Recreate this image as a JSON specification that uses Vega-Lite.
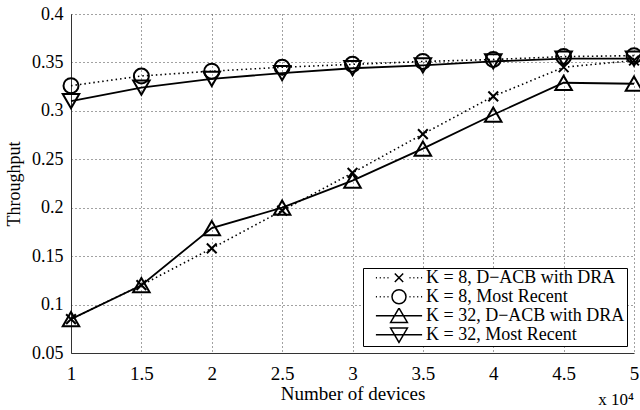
{
  "$schema": "https://vega.github.io/schema/vega-lite/v6.json",
  "width": 563,
  "height": 339,
  "autosize": {"type": "none"},
  "padding": {"left": 71, "top": 14, "right": 6, "bottom": 57},
  "background": "white",
  "config": {"view": {"stroke": null}, "font": "Liberation Serif"},
  "title": {"text": "x 10⁴", "orient": "bottom", "anchor": "end", "frame": "group", "fontSize": 17, "fontWeight": "normal", "font": "Liberation Serif", "color": "black", "offset": -11},
  "data": {"values": [
    {"x": 1, "y": 0.085, "series": "K = 8, D−ACB with DRA", "style": "dotted"},
    {"x": 1.5, "y": 0.12, "series": "K = 8, D−ACB with DRA", "style": "dotted"},
    {"x": 2, "y": 0.158, "series": "K = 8, D−ACB with DRA", "style": "dotted"},
    {"x": 2.5, "y": 0.197, "series": "K = 8, D−ACB with DRA", "style": "dotted"},
    {"x": 3, "y": 0.236, "series": "K = 8, D−ACB with DRA", "style": "dotted"},
    {"x": 3.5, "y": 0.276, "series": "K = 8, D−ACB with DRA", "style": "dotted"},
    {"x": 4, "y": 0.315, "series": "K = 8, D−ACB with DRA", "style": "dotted"},
    {"x": 4.5, "y": 0.345, "series": "K = 8, D−ACB with DRA", "style": "dotted"},
    {"x": 5, "y": 0.352, "series": "K = 8, D−ACB with DRA", "style": "dotted"},
    {"x": 1, "y": 0.326, "series": "K = 8, Most Recent", "style": "dotted"},
    {"x": 1.5, "y": 0.336, "series": "K = 8, Most Recent", "style": "dotted"},
    {"x": 2, "y": 0.341, "series": "K = 8, Most Recent", "style": "dotted"},
    {"x": 2.5, "y": 0.345, "series": "K = 8, Most Recent", "style": "dotted"},
    {"x": 3, "y": 0.348, "series": "K = 8, Most Recent", "style": "dotted"},
    {"x": 3.5, "y": 0.351, "series": "K = 8, Most Recent", "style": "dotted"},
    {"x": 4, "y": 0.353, "series": "K = 8, Most Recent", "style": "dotted"},
    {"x": 4.5, "y": 0.356, "series": "K = 8, Most Recent", "style": "dotted"},
    {"x": 5, "y": 0.357, "series": "K = 8, Most Recent", "style": "dotted"},
    {"x": 1, "y": 0.085, "series": "K = 32, D−ACB with DRA", "style": "solid"},
    {"x": 1.5, "y": 0.12, "series": "K = 32, D−ACB with DRA", "style": "solid"},
    {"x": 2, "y": 0.179, "series": "K = 32, D−ACB with DRA", "style": "solid"},
    {"x": 2.5, "y": 0.2, "series": "K = 32, D−ACB with DRA", "style": "solid"},
    {"x": 3, "y": 0.228, "series": "K = 32, D−ACB with DRA", "style": "solid"},
    {"x": 3.5, "y": 0.261, "series": "K = 32, D−ACB with DRA", "style": "solid"},
    {"x": 4, "y": 0.296, "series": "K = 32, D−ACB with DRA", "style": "solid"},
    {"x": 4.5, "y": 0.329, "series": "K = 32, D−ACB with DRA", "style": "solid"},
    {"x": 5, "y": 0.328, "series": "K = 32, D−ACB with DRA", "style": "solid"},
    {"x": 1, "y": 0.31, "series": "K = 32, Most Recent", "style": "solid"},
    {"x": 1.5, "y": 0.324, "series": "K = 32, Most Recent", "style": "solid"},
    {"x": 2, "y": 0.333, "series": "K = 32, Most Recent", "style": "solid"},
    {"x": 2.5, "y": 0.339, "series": "K = 32, Most Recent", "style": "solid"},
    {"x": 3, "y": 0.344, "series": "K = 32, Most Recent", "style": "solid"},
    {"x": 3.5, "y": 0.347, "series": "K = 32, Most Recent", "style": "solid"},
    {"x": 4, "y": 0.351, "series": "K = 32, Most Recent", "style": "solid"},
    {"x": 4.5, "y": 0.354, "series": "K = 32, Most Recent", "style": "solid"},
    {"x": 5, "y": 0.354, "series": "K = 32, Most Recent", "style": "solid"}
  ]},
  "encoding": {
    "x": {"field": "x", "type": "quantitative",
      "scale": {"domain": [1, 5], "nice": false, "zero": false},
      "axis": {"values": [1, 1.5, 2, 2.5, 3, 3.5, 4, 4.5, 5], "format": "~g", "title": "Number of devices",
        "grid": true, "gridDash": [1, 3], "gridColor": "#444", "gridOpacity": 1, "domainColor": "#333",
        "ticks": false, "labelPadding": 11, "labelFontSize": 19, "labelColor": "black", "labelFont": "Liberation Serif",
        "titleFontSize": 19, "titleFontWeight": "normal", "titleColor": "black", "titleFont": "Liberation Serif", "titlePadding": 1, "labelFlush": false}},
    "y": {"field": "y", "type": "quantitative",
      "scale": {"domain": [0.05, 0.4], "nice": false, "zero": false},
      "axis": {"values": [0.05, 0.1, 0.15, 0.2, 0.25, 0.3, 0.35, 0.4], "format": ".2~f", "title": "Throughput",
        "grid": true, "gridDash": [1, 3], "gridColor": "#444", "gridOpacity": 1, "domainColor": "#333",
        "ticks": false, "labelPadding": 8, "labelFontSize": 18, "labelColor": "black", "labelFont": "Liberation Serif",
        "titleFontSize": 18, "titleFontWeight": "normal", "titleColor": "black", "titleFont": "Liberation Serif", "titlePadding": 8, "labelFlush": false}}
  },
  "layer": [
    {
      "transform": [{"filter": "datum.style === 'dotted'"}],
      "mark": {"type": "line", "color": "black", "strokeWidth": 1.6, "strokeDash": [1.5, 3]},
      "encoding": {"detail": {"field": "series", "type": "nominal"}}
    },
    {
      "transform": [{"filter": "datum.style === 'solid'"}],
      "mark": {"type": "line", "color": "black", "strokeWidth": 1.8},
      "encoding": {"detail": {"field": "series", "type": "nominal"}}
    },
    {
      "mark": {"type": "point", "filled": false, "color": "black", "strokeWidth": 2, "size": 225, "opacity": 1},
      "encoding": {
        "shape": {"field": "series", "type": "nominal",
          "scale": {"domain": ["K = 8, D−ACB with DRA", "K = 8, Most Recent", "K = 32, D−ACB with DRA", "K = 32, Most Recent"],
            "range": ["M-0.65,-0.65L0.65,0.65M-0.65,0.65L0.65,-0.65", "circle", "M0,-0.95L1.1,0.95L-1.1,0.95Z", "M0,0.95L1.1,-0.95L-1.1,-0.95Z"]},
          "legend": null}
      }
    },
    {
      "mark": {"type": "point", "filled": false, "color": "black", "strokeWidth": 1.5, "size": 196, "opacity": 0},
      "encoding": {
        "shape": {"field": "series", "type": "nominal",
          "scale": {"domain": ["K = 8, D−ACB with DRA", "K = 8, Most Recent", "K = 32, D−ACB with DRA", "K = 32, Most Recent"],
            "range": [
              "M-3.3,0L-3.15,0M-2.75,0L-2.6,0M-2.2,0L-2.05,0M-1.65,0L-1.5,0M-0.6,-0.6L0.6,0.6M-0.6,0.6L0.6,-0.6M1.5,0L1.65,0M2.05,0L2.2,0M2.6,0L2.75,0M3.15,0L3.3,0",
              "M-3.3,0L-3.15,0M-2.75,0L-2.6,0M-2.2,0L-2.05,0M-1.65,0L-1.5,0M1,0A1,1 0 1,1 -1,0A1,1 0 1,1 1,0M1.5,0L1.65,0M2.05,0L2.2,0M2.6,0L2.75,0M3.15,0L3.3,0",
              "M-3.3,0L3.3,0M0,-1.1L1.2,0.95L-1.2,0.95Z",
              "M-3.3,0L3.3,0M0,1.1L1.2,-0.95L-1.2,-0.95Z"
            ]},
          "legend": {"title": null, "orient": "none", "legendX": 292, "legendY": 254,
            "fillColor": "white", "strokeColor": "black", "cornerRadius": 0, "padding": 2,
            "labelFont": "Liberation Serif", "labelFontSize": 18, "labelColor": "black", "labelLimit": 400,
            "symbolSize": 196, "symbolStrokeWidth": 1.5, "symbolStrokeColor": "black", "symbolFillColor": "transparent",
            "symbolOpacity": 1, "symbolOffset": 25, "labelOffset": 18, "rowPadding": 0, "clipHeight": 15.5}}
      }
    }
  ],
  "resolve": {"scale": {"shape": "independent"}, "legend": {"shape": "independent"}}
}
